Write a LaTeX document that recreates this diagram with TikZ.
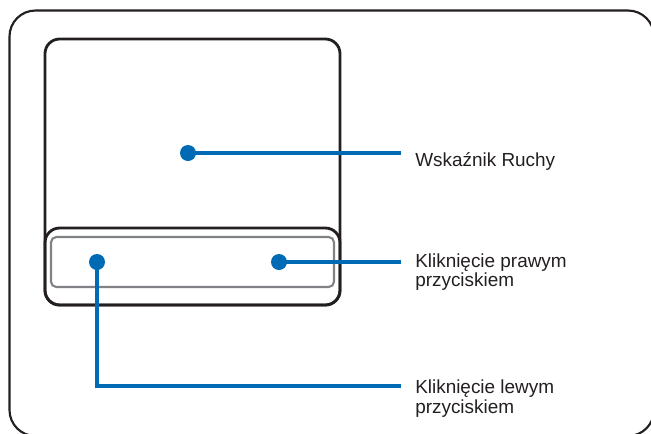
\documentclass[tikz,border=0pt]{standalone}
\usepackage{fontspec}
\setmainfont{Liberation Sans}
\usetikzlibrary{positioning,calc}
\definecolor{padblue}{RGB}{0,106,180}
\definecolor{ink}{RGB}{35,31,32}
\definecolor{btngray}{RGB}{128,130,133}

\begin{document}
\begin{tikzpicture}[x=0.75pt,y=-0.75pt,
  dot/.style={circle,fill=padblue,inner sep=0pt,minimum size=12pt},
  lead/.style={padblue,line width=2.4pt},
  lab/.style={font=\fontsize{14.2}{14.6}\selectfont,text=ink,anchor=north west,inner sep=0pt,align=left}]
\useasboundingbox (0,0) rectangle (651,433);
% outer frame
\draw[ink,line width=1.6pt,rounded corners=19.5pt] (9.5,10.5) rectangle (654,436);
% touchpad and button bar
\draw[ink,line width=2.1pt,rounded corners=11pt] (45,39) rectangle (340,305);
\draw[ink,line width=2.1pt,rounded corners=11pt] (45,228) rectangle (340,305);
\draw[btngray,line width=1.6pt,rounded corners=4pt] (51,237) rectangle (334,287);
% dots and leaders
\node[dot] (move) at (188,153) {};
\node[dot] (leftbtn) at (97,262) {};
\node[dot] (rightbtn) at (279,262) {};
\coordinate (moveend) at (401,153);
\coordinate (rightend) at (401,262);
\coordinate (leftend) at (401,386);
\draw[lead] (move.center) -- (moveend);
\draw[lead] (rightbtn.center) -- (rightend);
\draw[lead] (leftbtn.center) |- (leftend);
% labels
\node[lab] (movelab) at (415,152.5) {Wskaźnik Ruchy};
\node[lab] (rightlab) at (415,253.5) {Kliknięcie prawym\\przyciskiem};
\node[lab] (leftlab) at (415,380) {Kliknięcie lewym\\przyciskiem};
\end{tikzpicture}
\end{document}
